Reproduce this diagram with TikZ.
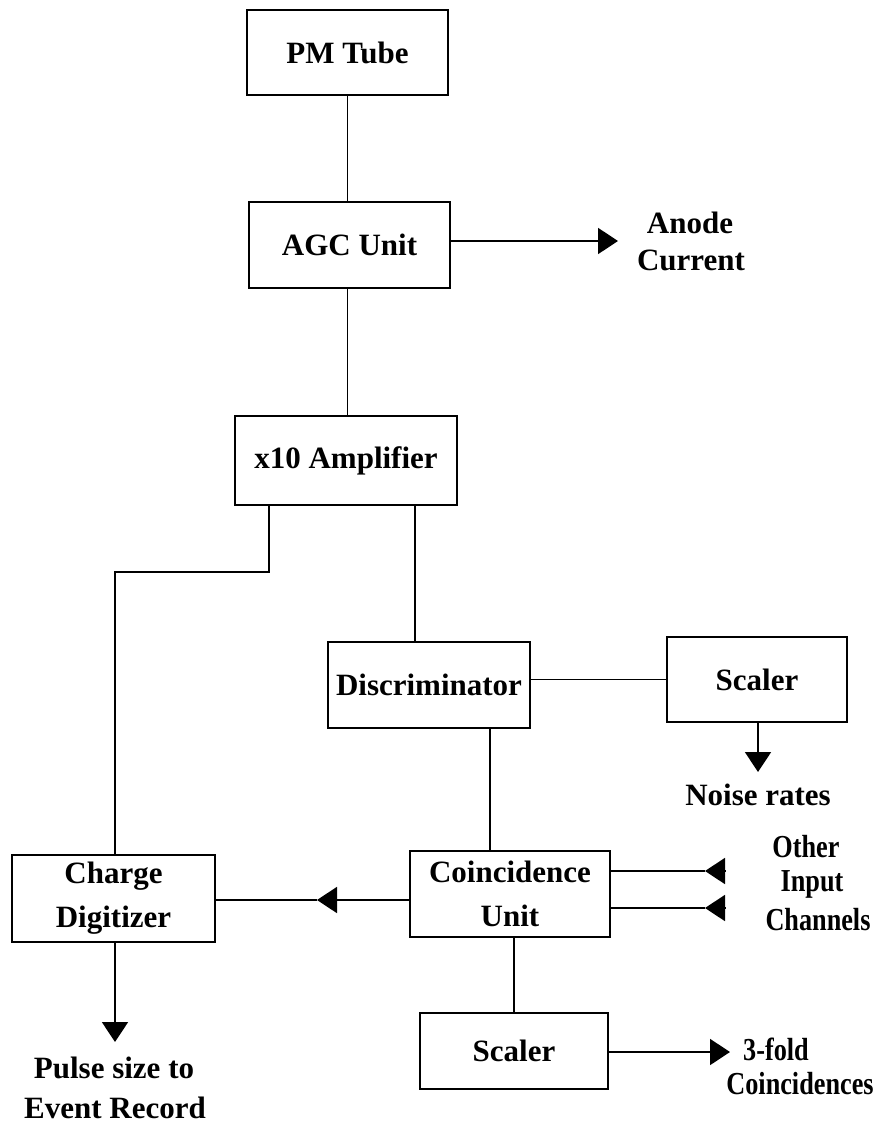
\documentclass[tikz,border=0pt]{standalone}
\usepackage{fontspec}
\setmainfont{Liberation Serif}
\newfontfamily\condfont{Liberation Serif}[FakeStretch=0.82]
\usetikzlibrary{arrows.meta}
\begin{document}
\begin{tikzpicture}[x=1pt,y=-1pt,
  box/.style={draw, line width=1.6pt, inner sep=0pt, align=center,
    font=\bfseries\fontsize{31}{44}\selectfont},
  lbl/.style={inner sep=0pt, font=\bfseries\fontsize{31}{37}\selectfont},
  clbl/.style={inner sep=0pt, font=\condfont\bfseries\fontsize{32}{37}\selectfont},
  wire/.style={line width=1.8pt},
  arr/.style={wire, -{Triangle[length=20pt,width=26pt]}}]
\useasboundingbox (0,0) rectangle (875,1126);
% boxes
\node[box, minimum width=201pt, minimum height=85pt] (pm) at (347.5,52.5) {PM Tube};
\node[box, minimum width=201pt, minimum height=86pt] (agc) at (349.5,245) {AGC Unit};
\node[box, minimum width=222pt, minimum height=89pt] (amp) at (346,460.5) {x10 Amplifier};
\node[box, minimum width=202pt, minimum height=86pt] (disc) at (429,685) {Discriminator};
\node[box, minimum width=180pt, minimum height=85pt] (s1) at (757,679.5) {Scaler};
\node[box, minimum width=200pt, minimum height=86pt] (coin) at (510,894) {Coincidence\\Unit};
\node[box, minimum width=203pt, minimum height=87pt] (cd) at (113.5,898.5) {Charge\\Digitizer};
\node[box, minimum width=188pt, minimum height=76pt] (s2) at (514,1051) {Scaler};
% labels
\node[lbl] (anode) at (690,223) {Anode};
\node[lbl] (current) at (691,260) {Current};
\node[lbl] (noise) at (758,795) {Noise rates};
\node[clbl] (other) at (806,847) {Other};
\node[clbl] (input) at (812,884) {Input};
\node[clbl] (chan) at (818,920) {Channels};
\node[lbl] (pulse) at (114,1068) {Pulse size to};
\node[lbl] (event) at (115,1108) {Event Record};
\node[clbl] (fold) at (776,1049) {3-fold};
\node[clbl] (coinc) at (800,1084) {Coincidences};
% coordinates
\coordinate (anodetip) at (618,241);
\coordinate (bend) at (269,572);
\coordinate (d1) at (415,600);
\coordinate (d2) at (490,790);
\coordinate (noisetip) at (758,772);
\coordinate (cdtip) at (317,900);
\coordinate (pulsetip) at (115,1042);
\coordinate (o1) at (725,871);
\coordinate (t1) at (705,871);
\coordinate (o2) at (725,908);
\coordinate (t2) at (705,908);
\coordinate (foldtip) at (730,1052);
% connectors
\draw[wire] (pm.south) -- (pm.south |- agc.north);
\draw[wire] (agc.south -| pm.south) -- (amp.north -| pm.south);
\draw[arr] (agc.east |- anodetip) -- (anodetip);
\draw[wire] (amp.south -| bend) -- (bend) -| (cd.north -| pulsetip);
\draw[wire] (amp.south -| d1) -- (disc.north -| d1);
\draw[wire] (disc.east |- s1.west) -- (s1.west);
\draw[arr] (s1.south -| noisetip) -- (noisetip);
\draw[wire] (disc.south -| d2) -- (coin.north -| d2);
\draw[wire] (coin.south -| s2.north) -- (s2.north);
\draw[arr] (coin.west |- cdtip) -- (cdtip);
\draw[wire] (cdtip) -- (cd.east |- cdtip);
\draw[arr] (cd.south -| pulsetip) -- (pulsetip);
\draw[arr] (o1) -- (t1);
\draw[wire] (t1) -- (coin.east |- t1);
\draw[arr] (o2) -- (t2);
\draw[wire] (t2) -- (coin.east |- t2);
\draw[arr] (s2.east |- foldtip) -- (foldtip);
\end{tikzpicture}
\end{document}
